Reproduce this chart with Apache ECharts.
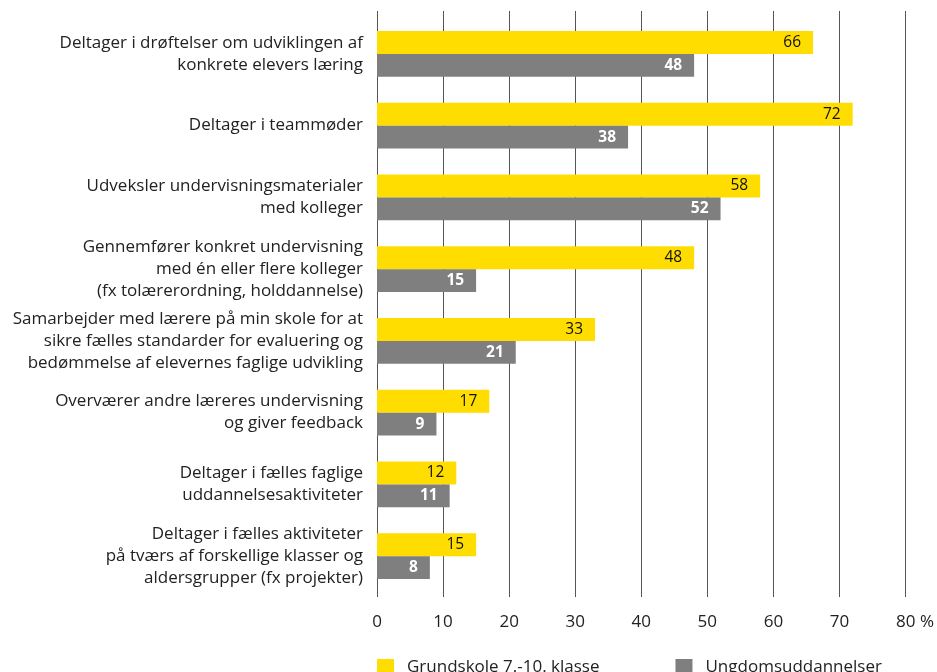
<!DOCTYPE html>
<html>
<head>
<meta charset="utf-8">
<script src="https://cdn.jsdelivr.net/npm/echarts@6/dist/echarts.min.js"></script>
<style>html,body{margin:0;padding:0;background:#fff}#c{width:937px;height:672px}</style>
</head>
<body>
<div id="c"></div>
<script>
const categories = [
  "Deltager i drøftelser om udviklingen af\nkonkrete elevers læring",
  "Deltager i teammøder",
  "Udveksler undervisningsmaterialer\nmed kolleger",
  "Gennemfører konkret undervisning\nmed én eller flere kolleger\n(fx tolærerordning, holddannelse)",
  "Samarbejder med lærere på min skole for at\nsikre fælles standarder for evaluering og\nbedømmelse af elevernes faglige udvikling",
  "Overværer andre læreres undervisning\nog giver feedback",
  "Deltager i fælles faglige\nuddannelsesaktiviteter",
  "Deltager i fælles aktiviteter\npå tværs af forskellige klasser og\naldersgrupper (fx projekter)"
];
const seriesNames = ["Grundskole 7.-10. klasse", "Ungdomsuddannelser"];
const grundskole = [66, 72, 58, 48, 33, 17, 12, 15];
const ungdom = [48, 38, 52, 15, 21, 9, 11, 8];
const xTicks = [0, 10, 20, 30, 40, 50, 60, 70, 80];

const FONT = "Open Sans";
const chart = echarts.init(document.getElementById('c'), null, {renderer: 'canvas'});
chart.setOption({
  animation: false,
  textStyle: {fontFamily: FONT},
  grid: {left: 377, right: 29, top: 18, bottom: 80, containLabel: false},
  legend: {
    left: 377, top: 659, padding: 0,
    itemWidth: 17, itemHeight: 17, itemGap: 76,
    icon: 'rect',
    textStyle: {fontFamily: FONT, fontSize: 17, color: '#222', padding: [0, 0, 0, 8]},
    data: seriesNames
  },
  xAxis: [{
    type: 'value', position: 'bottom', min: 0, max: 80, interval: 10,
    axisLine: {show: false},
    axisTick: {show: true, length: 5, lineStyle: {color: '#555', width: 1}},
    splitLine: {show: true, lineStyle: {color: '#555', width: 1}},
    axisLabel: {
      margin: 22, fontSize: 17, color: '#222', fontFamily: FONT,
      formatter: function (v) { return v === xTicks[xTicks.length - 1] ? '{p|' + v + ' %}' : '' + v; },
      rich: {p: {fontSize: 17, color: '#222', fontFamily: FONT, padding: [0, 0, 0, 19]}}
    }
  }, {
    type: 'value', position: 'top', min: 0, max: 80, interval: 10,
    axisLine: {show: false},
    axisTick: {show: true, length: 7, lineStyle: {color: '#555', width: 1}},
    splitLine: {show: false},
    axisLabel: {show: false}
  }],
  yAxis: {
    type: 'category', inverse: true, data: categories,
    axisLine: {show: true, lineStyle: {color: '#555', width: 1}},
    axisTick: {show: false},
    axisLabel: {fontSize: 17, lineHeight: 22, color: '#222', margin: 14, fontFamily: FONT, align: 'right'}
  },
  series: [{
    name: seriesNames[0], type: 'bar', data: grundskole,
    barGap: '0%', barCategoryGap: '36%',
    itemStyle: {color: '#FFDD00'},
    label: {show: true, position: 'insideRight', distance: 12, color: '#111', fontSize: 15.5, fontFamily: FONT}
  }, {
    name: seriesNames[1], type: 'bar', data: ungdom,
    barGap: '0%', barCategoryGap: '36%',
    itemStyle: {color: '#7F7F7F'},
    label: {show: true, position: 'insideRight', distance: 12, color: '#fff', fontWeight: 'bold', fontSize: 15.5, fontFamily: FONT}
  }]
});
</script>
</body>
</html>
